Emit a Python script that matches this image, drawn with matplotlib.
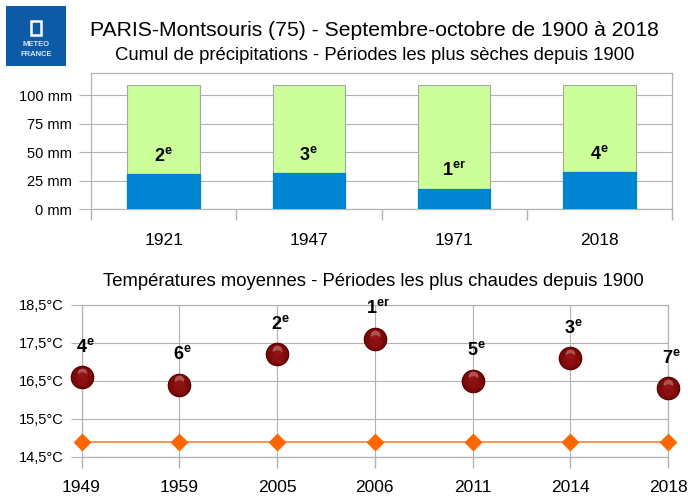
import matplotlib
matplotlib.use("Agg")
import matplotlib.pyplot as plt
from matplotlib.patches import Rectangle
import matplotlib.transforms as mtransforms
import numpy as np

plt.rcParams['font.family'] = ['Liberation Sans', 'DejaVu Sans']
plt.rcParams['mathtext.fontset'] = 'custom'
plt.rcParams['mathtext.rm'] = 'Liberation Sans'
plt.rcParams['mathtext.bf'] = 'Liberation Sans:bold'

# ---------------- data ----------------
title = "PARIS-Montsouris (75) - Septembre-octobre de 1900 à 2018"
precip_title = "Cumul de précipitations - Périodes les plus sèches depuis 1900"
temp_title = "Températures moyennes - Périodes les plus chaudes depuis 1900"

precip_years = ['1921', '1947', '1971', '2018']
precip_values = [31, 32, 18, 33]          # mm
precip_normal = 109                         # mm (normale)
precip_ranks = [2, 3, 1, 4]
precip_yticks = [0, 25, 50, 75, 100]

temp_years = ['1949', '1959', '2005', '2006', '2011', '2014', '2018']
temp_values = [16.6, 16.4, 17.2, 17.6, 16.5, 17.1, 16.3]   # °C
temp_normal = 14.9                                          # °C
temp_ranks = [4, 6, 2, 1, 5, 3, 7]
temp_yticks = [14.5, 15.5, 16.5, 17.5, 18.5]

GRID = '#b3b3b3'
BLUE = '#0084d1'
GREEN = '#ccff99'

def rank_label(r):
    suf = 'er' if r == 1 else 'e'
    return r'$\mathbf{%d}^{\mathbf{%s}}$' % (r, suf)

W, H = 688, 497
fig = plt.figure(figsize=(W / 100, H / 100), dpi=100)

# ---------------- logo ----------------
fig.patches.append(Rectangle((6 / W, 1 - 66 / H), 60 / W, 60 / H,
                             transform=fig.transFigure, facecolor='#0d5aa7',
                             edgecolor='none'))
fig.patches.append(Rectangle((31 / W, 1 - 35 / H), 10 / W, 14 / H,
                             transform=fig.transFigure, facecolor='none',
                             edgecolor='white', lw=1.8))
fig.text(36 / W, 1 - 45 / H, "METEO", color='#dde8f5', fontsize=5.5,
         fontweight='bold', ha='center', va='center')
fig.text(36 / W, 1 - 54 / H, "FRANCE", color='#dde8f5', fontsize=5.5,
         fontweight='bold', ha='center', va='center')

# ---------------- titles ----------------
fig.text(374 / W, 1 - 35.7 / H, title, fontsize=15.2, ha='center', va='baseline')
fig.text(374.5 / W, 1 - 60 / H, precip_title, fontsize=13.3, ha='center', va='baseline')
fig.text(373 / W, 1 - 286 / H, temp_title, fontsize=13.3, ha='center', va='baseline')

# ---------------- top chart: precipitation ----------------
ax1 = fig.add_axes([91 / W, 1 - 209.3 / H, 581 / W, 136.6 / H])
x1 = np.arange(len(precip_years))
ax1.bar(x1, [precip_normal] * len(x1), width=0.5, color=GREEN,
        edgecolor='#a6a6a6', lw=0.8, zorder=2)
ax1.bar(x1, precip_values, width=0.5, color=BLUE, edgecolor=BLUE, lw=0.9, zorder=3)
ax1.set_xlim(-0.5, len(precip_years) - 0.5)
ax1.set_ylim(0, 120)
ax1.set_yticks(precip_yticks)
ax1.set_yticklabels([f"{v} mm" for v in precip_yticks], fontsize=10.5)
ax1.set_xticks(x1)
ax1.set_xticklabels(precip_years, fontsize=12.5)
ax1.set_xticks(np.arange(-0.5, len(precip_years)), minor=True)
ax1.tick_params(axis='x', which='major', length=0, pad=17)
ax1.tick_params(axis='x', which='minor', length=8, width=1, color=GRID, direction='out')
ax1.tick_params(axis='y', length=8.6, width=0.8, color=GRID, pad=5)
ax1.grid(axis='y', color=GRID, lw=0.8, zorder=0)
for s in ax1.spines.values():
    s.set_color(GRID)
    s.set_linewidth(0.9)
for xi, v, r in zip(x1, precip_values, precip_ranks):
    ax1.annotate(rank_label(r), (xi, v), xytext=(0, 13), textcoords='offset points',
                 ha='center', va='center', fontsize=13, zorder=5)

# ---------------- bottom chart: temperature ----------------
ax2 = fig.add_axes([81.5 / W, 1 - 456.7 / H, 586.5 / W, 151.7 / H])
x2 = np.arange(len(temp_years))
ax2.plot(x2, [temp_normal] * len(x2), color='#ff8a3d', lw=1.3, marker='D',
         ms=8, mfc='#ff6600', mec='#ff6600', zorder=3, clip_on=False)
ax2.plot(x2, temp_values, ls='none', marker='o', ms=16, mfc='#7d0a0a',
         mec='#5c0000', mew=1, zorder=4, clip_on=False)
hl = mtransforms.offset_copy(ax2.transData, fig=fig, x=0, y=3.2, units='points')
ax2.plot(x2, temp_values, ls='none', marker='o', ms=7, mfc='#b86060',
         mec='none', alpha=0.85, zorder=5, clip_on=False, transform=hl)
hl2 = mtransforms.offset_copy(ax2.transData, fig=fig, x=0, y=-1, units='points')
ax2.plot(x2, temp_values, ls='none', marker='o', ms=9, mfc='#8e0f0f',
         mec='none', alpha=0.9, zorder=5, clip_on=False, transform=hl2)
ax2.set_xlim(0, len(temp_years) - 1)
ax2.set_ylim(temp_yticks[0], temp_yticks[-1])
ax2.set_yticks(temp_yticks)
ax2.set_yticklabels([f"{v:.1f}°C".replace('.', ',') for v in temp_yticks], fontsize=10.5)
ax2.set_xticks(x2)
ax2.set_xticklabels(temp_years, fontsize=12.5)
ax2.tick_params(axis='x', length=8, width=1, color=GRID, pad=9)
ax2.tick_params(axis='y', length=8, width=0.8, color=GRID, pad=5)
ax2.grid(True, color=GRID, lw=0.8, zorder=0)
for s in ax2.spines.values():
    s.set_color(GRID)
    s.set_linewidth(0.9)
for xi, v, r in zip(x2, temp_values, temp_ranks):
    ax2.annotate(rank_label(r), (xi, v), xytext=(2.5, 22), textcoords='offset points',
                 ha='center', va='center', fontsize=13, zorder=6,
                 annotation_clip=False)

fig.savefig("out.png", dpi=100)
